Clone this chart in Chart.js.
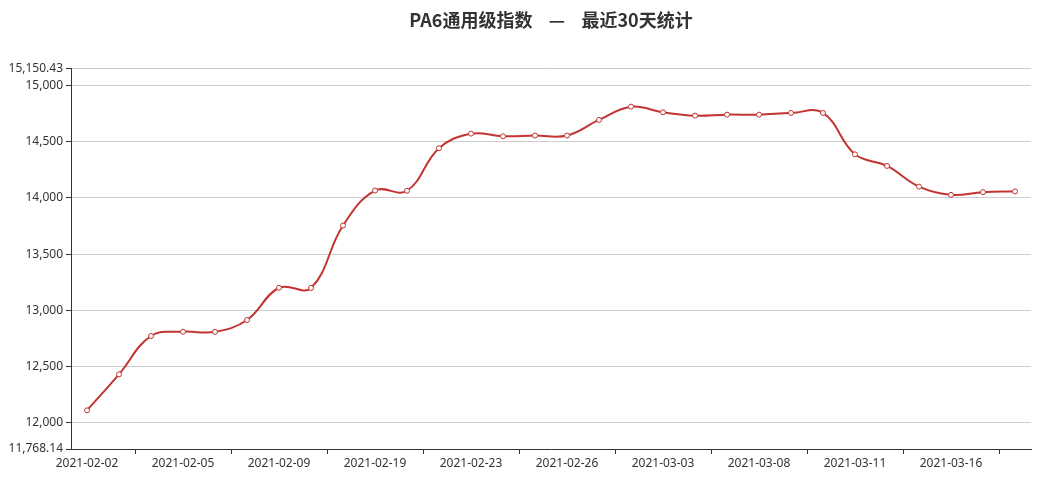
<!DOCTYPE html>
<html>
<head>
<meta charset="utf-8">
<script src="https://cdn.jsdelivr.net/npm/chart.js@4.4.0/dist/chart.umd.min.js"></script>
<style>
    body { margin: 0; background: #fff; }
</style>
</head>
<body>
<canvas id="pa6-chart" width="1042" height="482"></canvas>
<script>
// Data tanggal (30 hari perdagangan)
const dates = [
    '2021-02-02', '2021-02-03', '2021-02-04', '2021-02-05', '2021-02-07',
    '2021-02-08', '2021-02-09', '2021-02-10', '2021-02-18', '2021-02-19',
    '2021-02-20', '2021-02-22', '2021-02-23', '2021-02-24', '2021-02-25',
    '2021-02-26', '2021-03-01', '2021-03-02', '2021-03-03', '2021-03-04',
    '2021-03-05', '2021-03-08', '2021-03-09', '2021-03-10', '2021-03-11',
    '2021-03-12', '2021-03-15', '2021-03-16', '2021-03-17', '2021-03-18'
];

// Nilai indeks PA6
const indexValues = [
    12112, 12432, 12773, 12811, 12810,
    12915, 13202, 13200, 13755, 14066,
    14064, 14442, 14572, 14549, 14555,
    14555, 14694, 14812, 14762, 14732,
    14741, 14741, 14756, 14756, 14388,
    14285, 14101, 14028, 14052, 14058
];

// Label sumbu Y
const yMin = 11768.14;
const yMax = 15150.43;
const yTicks = [11768.14, 12000, 12500, 13000, 13500, 14000, 14500, 15000, 15150.43];

const lineColor = '#c23531';
const fontFamily = "'Noto Sans', 'Noto Sans CJK SC', sans-serif";

const ctx = document.getElementById('pa6-chart').getContext('2d');
const chart = new Chart(ctx, {
    type: 'line',
    data: {
        labels: dates,
        datasets: [{
            label: 'PA6通用级指数',
            data: indexValues,
            borderColor: lineColor,
            borderWidth: 2,
            tension: 0.4,
            pointRadius: 2.5,
            pointBackgroundColor: '#fff',
            pointBorderColor: lineColor,
            pointBorderWidth: 1,
            fill: false
        }]
    },
    options: {
        responsive: false,
        animation: false,
        layout: {
            padding: { left: 0, right: 11, top: 0, bottom: 0 }
        },
        scales: {
            x: {
                offset: true,
                afterFit: scale => { scale.height = 33; },
                border: { color: '#333', width: 1 },
                grid: {
                    offset: true,
                    drawOnChartArea: false,
                    tickLength: 5,
                    tickColor: c => (c.index % 3 === 2 ? '#333' : 'transparent')
                },
                ticks: {
                    autoSkip: false,
                    maxRotation: 0,
                    padding: 2,
                    color: '#333',
                    font: { family: fontFamily, size: 12 },
                    callback: function (value, index) {
                        return index % 3 === 0 ? this.getLabelForValue(value) : '';
                    }
                }
            },
            y: {
                min: yMin,
                max: yMax,
                afterFit: scale => { scale.width = 71; },
                afterBuildTicks: scale => {
                    scale.ticks = yTicks.map(v => ({ value: v }));
                },
                border: { color: '#333', width: 1 },
                grid: {
                    color: '#ccc',
                    tickLength: 5,
                    tickColor: '#333'
                },
                ticks: {
                    padding: 3,
                    color: '#333',
                    font: { family: fontFamily, size: 12 },
                    callback: value => value.toLocaleString('en-US', { maximumFractionDigits: 2 })
                }
            }
        },
        plugins: {
            legend: { display: false },
            tooltip: { enabled: false },
            title: {
                display: true,
                fullSize: false,
                text: 'PA6通用级指数    —    最近30天统计',
                color: '#333',
                font: { family: "'Noto Sans CJK SC', sans-serif", size: 18, weight: 'bold' },
                padding: { top: 9, bottom: 38 }
            }
        }
    }
});
</script>
</body>
</html>
